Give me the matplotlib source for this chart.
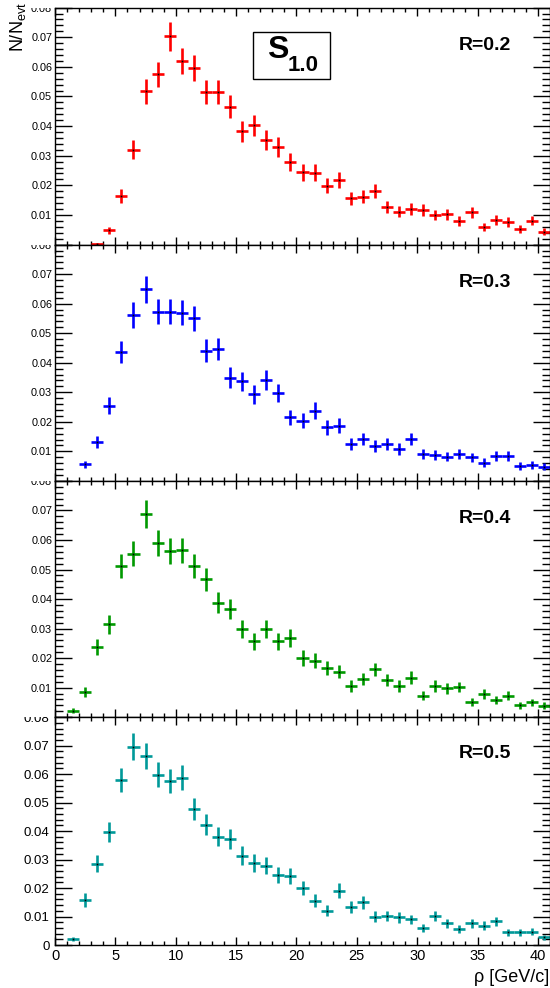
import numpy as np
import matplotlib
matplotlib.use('Agg')
import matplotlib.pyplot as plt
from matplotlib.patches import Rectangle
from matplotlib.transforms import Bbox, TransformedBbox
from matplotlib.ticker import MultipleLocator

plt.rcParams['font.family'] = ['Liberation Sans', 'DejaVu Sans']
plt.rcParams['mathtext.fontset'] = 'custom'
plt.rcParams['mathtext.rm'] = 'Liberation Sans'
plt.rcParams['mathtext.bf'] = 'Liberation Sans:bold'

nan = np.nan
rho = np.arange(0.5, 41, 1.0)  # 1 GeV/c bin centres

# R = 0.2
y_r02 = [nan, nan, nan, 0.0003, 0.0048, 0.0165, 0.032, 0.0517, 0.0575, 0.0703,
         0.062, 0.0595, 0.0515, 0.0515, 0.0465, 0.0383, 0.0403, 0.0352, 0.0330, 0.0278,
         0.0244, 0.0243, 0.0199, 0.0218, 0.0156, 0.0162, 0.0182, 0.0126, 0.0111, 0.0119,
         0.0117, 0.0100, 0.0102, 0.0080, 0.0109, 0.0060, 0.0083, 0.0077, 0.0052, 0.0081,
         0.0044]
e_r02 = [nan, nan, nan, 0.0003, 0.0012, 0.0023, 0.0032, 0.0041, 0.0043, 0.0048,
         0.0045, 0.0044, 0.0041, 0.0041, 0.0039, 0.0035, 0.0036, 0.0034, 0.0033, 0.0030,
         0.0028, 0.0028, 0.0025, 0.0027, 0.0022, 0.0023, 0.0024, 0.0020, 0.0019, 0.0020,
         0.0019, 0.0018, 0.0018, 0.0016, 0.0019, 0.0014, 0.0016, 0.0016, 0.0013, 0.0016,
         0.0012]

# R = 0.3
y_r03 = [nan, nan, 0.0056, 0.0131, 0.0255, 0.0436, 0.0561, 0.0648, 0.0573, 0.0573,
         0.057, 0.055, 0.0441, 0.0446, 0.035, 0.0337, 0.0293, 0.0341, 0.0298, 0.0215,
         0.0204, 0.0238, 0.0181, 0.0187, 0.0125, 0.0142, 0.0118, 0.0124, 0.0108, 0.0142,
         0.009, 0.0088, 0.0082, 0.009, 0.008, 0.0062, 0.0085, 0.0085, 0.005, 0.0054,
         0.0048]
e_r03 = [nan, nan, 0.0013, 0.0021, 0.0029, 0.0038, 0.0043, 0.0046, 0.0043, 0.0043,
         0.0043, 0.0042, 0.0038, 0.0038, 0.0034, 0.0033, 0.0031, 0.0033, 0.0031, 0.0026,
         0.0026, 0.0028, 0.0024, 0.0025, 0.0020, 0.0021, 0.0020, 0.0020, 0.0019, 0.0021,
         0.0017, 0.0017, 0.0016, 0.0017, 0.0016, 0.0014, 0.0017, 0.0017, 0.0013, 0.0013,
         0.0012]

# R = 0.4
y_r04 = [nan, 0.0022, 0.0085, 0.0237, 0.0315, 0.0512, 0.0554, 0.0688, 0.0591, 0.0562,
         0.0565, 0.0512, 0.0467, 0.0388, 0.0366, 0.0298, 0.0257, 0.0298, 0.0257, 0.0269,
         0.0201, 0.0191, 0.0167, 0.0154, 0.0106, 0.0128, 0.0162, 0.0126, 0.0106, 0.0134,
         0.0073, 0.0106, 0.0098, 0.0102, 0.0052, 0.0078, 0.0058, 0.0073, 0.0041, 0.005,
         0.0039]
e_r04 = [nan, 0.0008, 0.0017, 0.0028, 0.0032, 0.0041, 0.0042, 0.0047, 0.0044, 0.0043,
         0.0043, 0.0041, 0.0039, 0.0035, 0.0034, 0.0031, 0.0029, 0.0031, 0.0029, 0.0030,
         0.0026, 0.0025, 0.0023, 0.0022, 0.0019, 0.0020, 0.0023, 0.0020, 0.0019, 0.0021,
         0.0015, 0.0019, 0.0018, 0.0018, 0.0013, 0.0016, 0.0014, 0.0015, 0.0012, 0.0013,
         0.0011]

# R = 0.5
y_r05 = [nan, 0.0021, 0.0158, 0.0285, 0.0396, 0.058, 0.0697, 0.0664, 0.0598, 0.0576,
         0.0588, 0.0478, 0.0422, 0.0381, 0.0373, 0.0314, 0.0289, 0.0278, 0.0245, 0.0243,
         0.0199, 0.0156, 0.0121, 0.0191, 0.0133, 0.015, 0.01, 0.0103, 0.0097, 0.009,
         0.0059, 0.0102, 0.0076, 0.0056, 0.0076, 0.0068, 0.0084, 0.0045, 0.0045, 0.0047,
         0.0027]
e_r05 = [nan, 0.0008, 0.0023, 0.0030, 0.0036, 0.0043, 0.0047, 0.0046, 0.0044, 0.0043,
         0.0044, 0.0039, 0.0037, 0.0035, 0.0035, 0.0032, 0.0031, 0.0030, 0.0028, 0.0028,
         0.0025, 0.0022, 0.0020, 0.0025, 0.0021, 0.0022, 0.0018, 0.0018, 0.0018, 0.0017,
         0.0014, 0.0018, 0.0016, 0.0013, 0.0016, 0.0015, 0.0016, 0.0012, 0.0012, 0.0012,
         0.0009]

labels = ['R=0.2', 'R=0.3', 'R=0.4', 'R=0.5']
colors = ['#ff0000', '#0000ff', '#009900', '#009999']
series = [(y_r02, e_r02), (y_r03, e_r03), (y_r04, e_r04), (y_r05, e_r05)]

W, H = 550, 988
fig = plt.figure(figsize=(W / 100, H / 100), dpi=100)

# panel edges in pixels (top, bottom)
edges = [(7.6, 244.6), (244.6, 480.9), (480.9, 717.2), (717.2, 945.0)]
left_px = 55

axes = []
for i, (top, bot) in enumerate(edges):
    ax = fig.add_axes([left_px / W, 1 - bot / H, 1 - left_px / W, (bot - top) / H])
    y = np.array(series[i][0])
    e = np.array(series[i][1])
    ok = ~np.isnan(y)
    ax.errorbar(rho[ok], y[ok], yerr=e[ok], xerr=0.5, fmt='none',
                ecolor=colors[i], elinewidth=1.9, capsize=0)
    ax.plot(rho[ok], y[ok], 's', ms=1.2, color='k', mew=0)
    ax.set_xlim(0, 41)
    ax.set_ylim(0, 0.08)

    last = (i == 3)
    fs_y = 9.5 if last else 7.8
    ax.xaxis.set_major_locator(MultipleLocator(5))
    ax.xaxis.set_minor_locator(MultipleLocator(1))
    ax.set_yticks(np.arange(0, 0.081, 0.01))
    ax.yaxis.set_minor_locator(MultipleLocator(0.002))
    ylabs = ['0'] + ['%.2f' % v for v in np.arange(0.01, 0.081, 0.01)]
    if not last:
        ylabs[0] = ''
    ax.set_yticklabels(ylabs)

    ax.tick_params(axis='y', which='major', direction='in', length=12, width=1,
                   left=True, right=True, labelsize=fs_y, pad=2 if not last else 4)
    ax.tick_params(axis='y', which='minor', direction='in', length=6, width=1,
                   left=True, right=True)
    ax.tick_params(axis='x', which='major', direction='in', length=6, width=1,
                   top=True, bottom=True, labelsize=10.5, labelbottom=last, pad=3)
    ax.tick_params(axis='x', which='minor', direction='in', length=3, width=1,
                   top=True, bottom=True)
    for sp in ax.spines.values():
        sp.set_linewidth(1.0)

    ax.text(37.8, 0.0673, labels[i], ha='right', va='center',
            fontsize=14, fontweight='bold')

    # clip tick labels to the pad of this panel (bottom pad runs to the figure edge)
    pad_bot = 0 if last else 1 - bot / H
    pad_box = TransformedBbox(Bbox([[0, pad_bot], [1, 1 - top / H]]), fig.transFigure)
    for lab in ax.get_yticklabels():
        lab.set_clip_box(pad_box)
        lab.set_clip_on(True)
    axes.append(ax)

# S_1.0 box in the top panel
fig.add_artist(Rectangle((253 / W, 1 - 79 / H), 77 / W, 47 / H, transform=fig.transFigure,
                         fill=True, facecolor='white', edgecolor='black', lw=1.0))
fig.text(267 / W, 1 - 58 / H, 'S', fontsize=23, fontweight='bold', va='baseline', ha='left')
fig.text(288 / W, 1 - 71 / H, '1.0', fontsize=16, fontweight='bold', va='baseline', ha='left')

# axis titles
fig.text(18 / W, 1 - 52 / H, r'N/N$_{\rm evt}$', rotation=90, fontsize=13,
         ha='center', va='bottom')
fig.text(549 / W, 1 - 986 / H, 'ρ [GeV/c]', fontsize=13, ha='right', va='bottom')

fig.savefig('out.png', dpi=100)
